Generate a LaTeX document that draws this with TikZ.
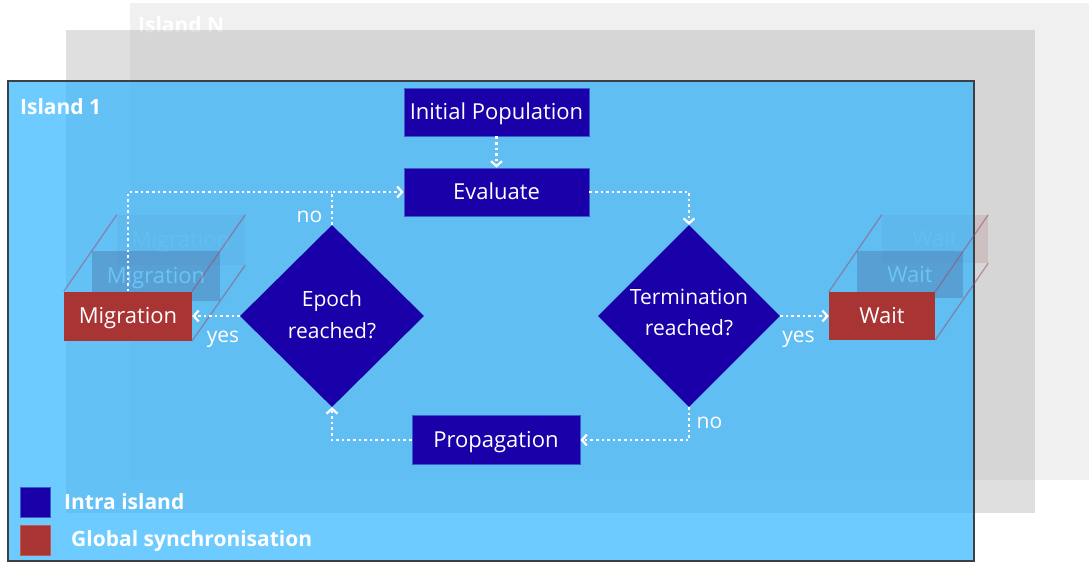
\documentclass[tikz,border=0pt]{standalone}
\usepackage{fontspec}
\setmainfont{Open Sans}
\usetikzlibrary{shapes.geometric,arrows.meta}
\definecolor{nodeblue}{HTML}{1A00A8}
\definecolor{nodeedge}{HTML}{3A5AD0}
\definecolor{syncred}{HTML}{A83434}
\definecolor{syncedge}{HTML}{C05858}
\definecolor{islandblue}{HTML}{30B5FF}
\definecolor{islandedge}{HTML}{3B4046}
\definecolor{layergray}{HTML}{B1B1B1}
\definecolor{backgray}{HTML}{F0F0F0}
\definecolor{cubeedge}{HTML}{9A4A6A}
\begin{document}
\begin{tikzpicture}[x=1pt,y=-1pt,
  procbox/.style={draw=nodeedge, line width=0.8pt, fill=nodeblue, text=white, inner sep=0pt,
    font=\fontsize{22}{26}\selectfont, text height=15.8pt, text depth=0pt},
  syncbox/.style={fill=syncred, text=white, inner sep=0pt,
    font=\fontsize{22}{26}\selectfont, text height=15.8pt, text depth=0pt},
  ghostbox/.style={fill=syncred, inner sep=0pt, minimum width=#1,
    font=\fontsize{22}{26}\selectfont, text height=15.8pt, text depth=0pt},
  decision/.style={diamond, fill=nodeblue, text=white, inner sep=0pt, aspect=1,
    align=center, font=\fontsize{21}{31.5}\selectfont},
  flow/.style={draw=white, line width=2.6pt, dash pattern=on 2.6pt off 3pt},
  flowarrow/.style={flow, -{Straight Barb[length=5pt,width=11pt,line width=2.2pt]}},
  lbl/.style={text=white, inner sep=0pt, anchor=base, font=\fontsize{21}{25}\selectfont},
  title/.style={text=white, inner sep=0pt, anchor=base west, font=\fontsize{21}{25}\selectfont\bfseries},
  cubeline/.style={draw=cubeedge, draw opacity=0.5, line width=1.3pt},
  layer/.style={draw=none}
]
\useasboundingbox (0,0) rectangle (1089,563);
\fill[white] (0,0) rectangle (1089,563);

% Island N (back layer)
\path[layer, fill=backgray] (130,3) rectangle (1089,480);
\node[title] (tN) at (138,32) {Island N};

% ghost boxes of the back layer
\node[ghostbox=128pt, minimum height=50pt, fill opacity=0.2, text opacity=0.6, text=white] (migB) at (181,240) {Migration};
\node[ghostbox=106pt, minimum height=48pt, fill opacity=0.2, text opacity=0.6, text=white] (waitB) at (935,239) {Wait};

% middle layer
\path[layer, fill=layergray, fill opacity=0.4] (66,30) rectangle (1035,513);

% ghost boxes of the middle layer
\node[ghostbox=128pt, minimum height=50pt, fill opacity=0.65, text opacity=0.85, text=white] (migM) at (156,276) {Migration};
\node[ghostbox=106pt, minimum height=47pt, fill opacity=0.65, text opacity=0.85, text=white] (waitM) at (910,274.5) {Wait};

% Island 1
\path[draw=islandedge, line width=2.6pt, fill=islandblue, fill opacity=0.7] (8,81) rectangle (974,561);
\node[title] (t1) at (20,114) {Island 1};

% front nodes
\node[procbox, minimum width=185pt, minimum height=48pt] (init) at (496.5,112) {Initial Population};
\node[procbox, minimum width=185pt, minimum height=48pt] (eval) at (496.5,192) {Evaluate};
\node[procbox, minimum width=168pt, minimum height=49pt] (prop) at (496,440) {Propagation};
\node[decision, minimum width=184pt, minimum height=182pt] (epoch) at (332,316) {Epoch\\reached?\rule[-3pt]{0pt}{3pt}};
\node[decision, minimum width=182pt, minimum height=182pt] (term) at (689,316) {Termination\\reached?\rule[-7pt]{0pt}{7pt}};
\node[syncbox, minimum width=128pt, minimum height=49pt] (mig) at (128,316) {Migration};
\node[syncbox, minimum width=106pt, minimum height=48pt] (wait) at (882,316) {Wait};

% cube edges
\draw[cubeline] (mig.north west) -- (migB.north west);
\draw[cubeline] (mig.north east) -- (migB.north east);
\draw[cubeline] (mig.south east) -- (migB.south east);
\draw[cubeline] (wait.north west) -- (waitB.north west);
\draw[cubeline] (wait.north east) -- (waitB.north east);
\draw[cubeline] (wait.south east) -- (waitB.south east);

% connectors
\coordinate (j1) at (epoch.north |- eval.west);
\draw[flowarrow] (init.south) -- (eval.north);
\draw[flowarrow] (eval.east) -| (term.north);
\draw[flowarrow] (term.east) -- (wait.west);
\draw[flowarrow] (term.south) |- (prop.east);
\draw[flowarrow] (prop.west) -| (epoch.south);
\draw[flowarrow] (epoch.west) -- (mig.east);
\draw[flowarrow] (epoch.north) |- (eval.west);
\draw[flow] (mig.north) |- (j1);

% connector labels
\node[lbl] (noE) at (309.5,222) {no};
\node[lbl] (yesE) at (223,342) {yes};
\node[lbl] (yesT) at (798.5,342) {yes};
\node[lbl] (noT) at (709.5,428) {no};

% legend
\path[draw=nodeedge, line width=0.8pt, fill=nodeblue] (20,487.5) rectangle (50,517.5);
\path[draw=syncedge, line width=0.8pt, fill=syncred] (20,525) rectangle (50,555);
\node[title] (lg1) at (64,509) {Intra island};
\node[title] (lg2) at (71,546) {Global synchronisation};
\end{tikzpicture}
\end{document}
